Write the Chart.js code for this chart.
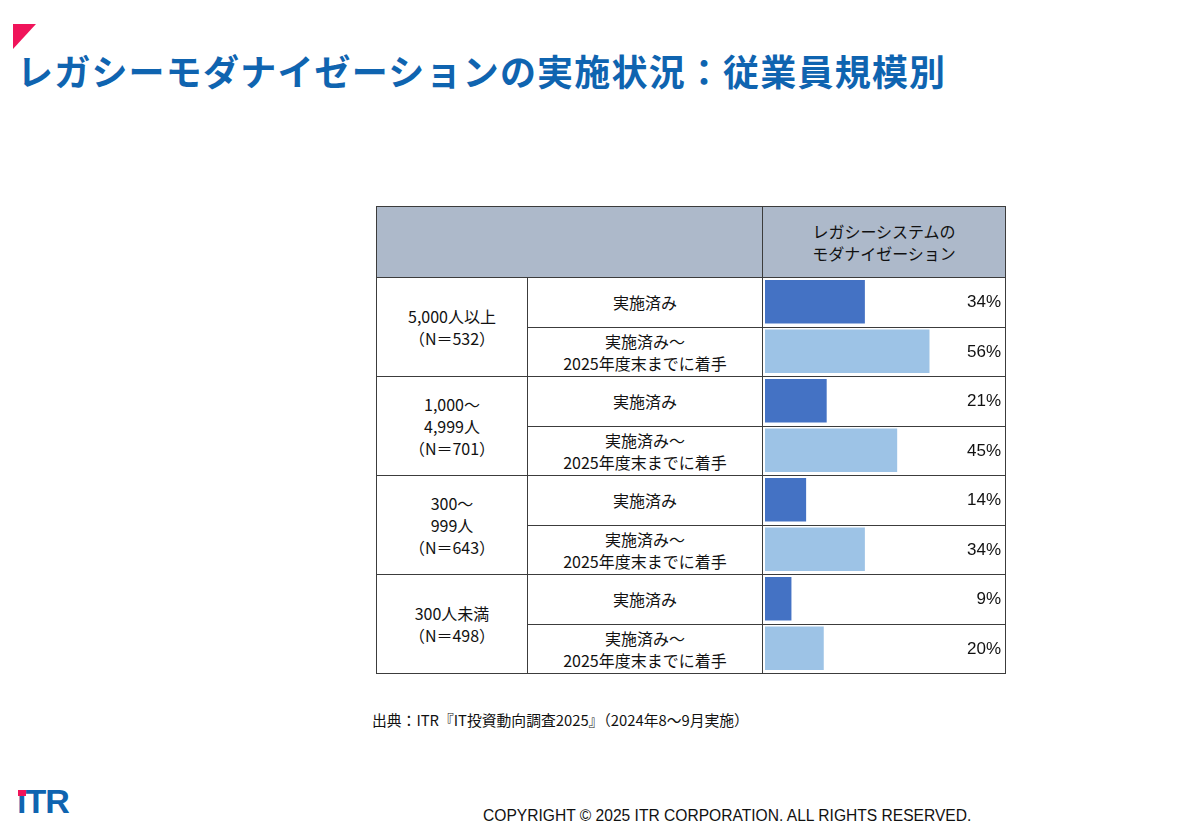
<!DOCTYPE html>
<html lang="ja">
<head>
<meta charset="utf-8">
<script src="https://cdn.jsdelivr.net/npm/chart.js@4/dist/chart.umd.min.js"></script>
<style>
  html, body { margin: 0; padding: 0; background: #fff; }
  body { width: 1200px; height: 826px; position: relative; overflow: hidden;
         font-family: "Noto Sans CJK JP", "Noto Sans", sans-serif; color: #111; }
  .mark { position: absolute; left: 13px; top: 24px; width: 23px; height: 25px;
          background: #f0145a; clip-path: polygon(0 0, 100% 0, 0 100%); }
  .title { position: absolute; left: 17px; top: 44px; font-size: 36px; font-weight: bold;
           color: #0f64b0; letter-spacing: 1.2px; white-space: nowrap; }
  table { position: absolute; left: 376px; top: 206px; width: 629px; border-collapse: collapse;
          table-layout: fixed; font-size: 16px; }
  td { border: 1.5px solid #3c3c3c; text-align: center; vertical-align: middle;
       padding: 0; line-height: 22px; }
  .head td { background: #adb9ca; height: 70px; }
  .body td { height: 48.5px; }
  #wrap { position: absolute; left: 762px; top: 277px; width: 243px; height: 396px; }
  .src { position: absolute; left: 372px; top: 709px; font-size: 14.8px; white-space: nowrap; }
  .logo { position: absolute; left: 17px; top: 782px; font-family: "Liberation Sans", Arial, sans-serif;
          font-weight: bold; font-size: 34px; color: #0f64b0; letter-spacing: -1px; }
  .logo .dot { position: absolute; left: 1px; top: 8px; width: 8px; height: 6px; background: #f0145a; }
  .copy { position: absolute; left: 483px; top: 807px; font-family: "Liberation Sans", Arial, sans-serif;
          font-size: 15.6px; white-space: nowrap; color: #111; }
</style>
</head>
<body>
<div class="mark"></div>
<div class="title">レガシーモダナイゼーションの実施状況：従業員規模別</div>

<table id="tbl">
  <colgroup><col style="width:151px"><col style="width:235px"><col style="width:243px"></colgroup>
</table>
<div id="wrap"><canvas id="myChart"></canvas></div>

<div class="src">出典：ITR『IT投資動向調査2025』（2024年8～9月実施）</div>
<div class="logo"><span class="dot"></span>ıTR</div>
<div class="copy">COPYRIGHT © 2025 ITR CORPORATION. ALL RIGHTS RESERVED.</div>

<script>
// data
var columnTitle = ['レガシーシステムの', 'モダナイゼーション'];
var sizeGroups = [
    ['5,000人以上', '（N＝532）'],
    ['1,000～', '4,999人', '（N＝701）'],
    ['300～', '999人', '（N＝643）'],
    ['300人未満', '（N＝498）']
];
var statusLabels = [
    ['実施済み'],
    ['実施済み～', '2025年度末までに着手']
];
var doneValues = [34, 21, 14, 9];
var plannedValues = [56, 45, 34, 20];

var darkBlue = '#4472c4';
var lightBlue = '#9dc3e6';

// table
var tbl = document.getElementById('tbl');
var head = document.createElement('tr');
head.className = 'head';
head.innerHTML = '<td colspan="2"></td><td>' + columnTitle.join('<br>') + '</td>';
tbl.appendChild(head);

sizeGroups.forEach(function (g, i) {
    statusLabels.forEach(function (s, j) {
        var tr = document.createElement('tr');
        tr.className = 'body';
        var html = '';
        if (j === 0) {
            html += '<td rowspan="' + statusLabels.length + '">' + g.join('<br>') + '</td>';
        }
        html += '<td>' + s.join('<br>') + '</td><td></td>';
        tr.innerHTML = html;
        tbl.appendChild(tr);
    });
});

// chart
var labels = [];
var values = [];
var colors = [];
sizeGroups.forEach(function (g, i) {
    labels.push(g[0] + ' ' + statusLabels[0].join(''));
    values.push(doneValues[i]);
    colors.push(darkBlue);
    labels.push(g[0] + ' ' + statusLabels[1].join(''));
    values.push(plannedValues[i]);
    colors.push(lightBlue);
});

var pctLabels = {
    id: 'pctLabels',
    afterDatasetsDraw: function (chart) {
        var ctx = chart.ctx;
        var meta = chart.getDatasetMeta(0);
        ctx.save();
        ctx.font = '17px "Liberation Sans", Arial, sans-serif';
        ctx.fillStyle = '#111';
        ctx.textAlign = 'right';
        ctx.textBaseline = 'middle';
        meta.data.forEach(function (bar, i) {
            ctx.fillText(chart.data.datasets[0].data[i] + '%', chart.width - 4, bar.y + 1);
        });
        ctx.restore();
    }
};

var ctx = document.getElementById('myChart').getContext('2d');
var myChart = new Chart(ctx, {
    type: 'bar',
    data: {
        labels: labels,
        datasets: [{
            data: values,
            backgroundColor: colors,
            borderWidth: 0,
            barPercentage: 0.88,
            categoryPercentage: 1
        }]
    },
    options: {
        indexAxis: 'y',
        responsive: true,
        maintainAspectRatio: false,
        animation: false,
        layout: { padding: { left: 3, right: 5, top: 0, bottom: 0 } },
        plugins: { legend: { display: false }, tooltip: { enabled: false } },
        scales: {
            x: { min: 0, max: 80, display: false },
            y: { display: false }
        }
    },
    plugins: [pctLabels]
});
</script>
</body>
</html>
